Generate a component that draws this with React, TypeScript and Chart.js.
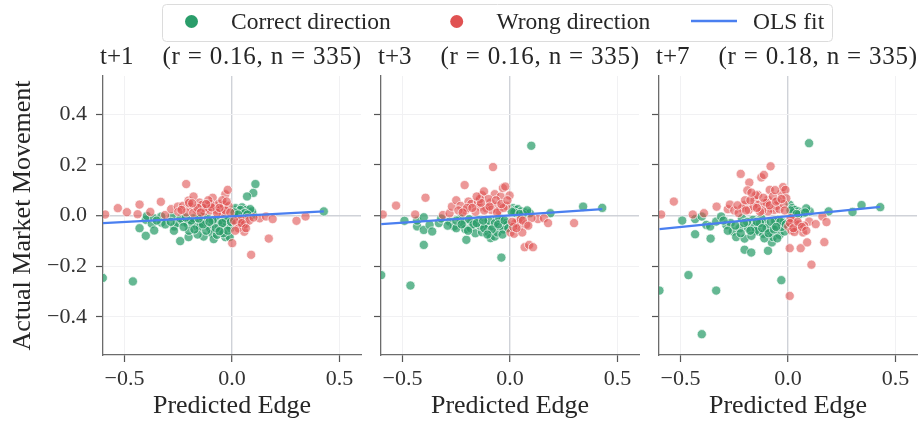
import { useEffect, useRef } from 'react';
import { Chart, registerables } from 'chart.js';
Chart.register(...registerables);

// ---------------- data ----------------
const panelTitles = ['t+1', 't+3', 't+7'];
const panelStats = ['(r = 0.16, n = 335)', '(r = 0.16, n = 335)', '(r = 0.18, n = 335)'];
const xTicks = [-0.5, 0, 0.5];
const xTickLabels = ['−0.5', '0.0', '0.5'];
const yTicks = [-0.4, -0.2, 0, 0.2, 0.4];
const yTickLabels = ['−0.4', '−0.2', '0.0', '0.2', '0.4'];
const xLimits = [-0.6, 0.6];
const yLimits = [-0.55, 0.55];
const legendLabels = ['Correct direction', 'Wrong direction', 'OLS fit'];
const xAxisTitle = 'Predicted Edge';
const yAxisTitle = 'Actual Market Movement';

const t1Correct: number[][] = [
  [-0.601,-0.246],[-0.461,-0.260],[0.109,0.124],[0.099,0.089],[0.070,0.075],[0.427,0.016],
  [-0.430,-0.050],[-0.401,-0.080],[-0.401,-0.017],[-0.396,-0.002],[-0.373,-0.033],[-0.362,-0.059],[-0.362,-0.011],[-0.329,-0.004],[-0.329,-0.028],[-0.280,-0.004],[-0.269,-0.043],[-0.256,-0.030],[-0.241,-0.101],[-0.228,-0.024],[-0.202,-0.085],[-0.207,-0.033],[-0.186,-0.030],[-0.179,-0.011],[-0.163,-0.043],[-0.148,-0.024],[-0.140,-0.004],[-0.132,-0.083],[-0.120,-0.033],[-0.113,-0.011],[-0.101,-0.050],[-0.093,-0.070],[-0.085,-0.093],[-0.082,-0.017],[-0.070,-0.076],[-0.062,-0.017],[-0.062,-0.043],[-0.051,-0.030],[-0.031,-0.085],[-0.023,-0.037],[-0.016,-0.017],[-0.011,-0.085],[-0.008,-0.050],
  [0.008,0.022],[0.016,0.029],[0.031,0.016],[0.047,0.032],[0.067,0.022],[0.078,0.012],[0.098,0.003],[0.093,0.016],[0.023,0.009],[0.039,0.022],
  [-0.19,-0.02],[-0.15,-0.045],[-0.12,-0.06],[-0.09,-0.02],[-0.05,-0.055],[-0.03,-0.012],[-0.24,-0.012],[-0.31,-0.035],[-0.35,-0.02],[-0.27,-0.06],[-0.2,-0.06],[-0.16,-0.075],[-0.04,-0.07],[0.05,0.005],[0.085,0.025],[0.06,0.01],
  [-0.225,-0.045],[-0.175,-0.055],[-0.135,-0.035],[-0.105,-0.025],[-0.075,-0.05],[-0.045,-0.03],[-0.02,-0.06],[-0.005,-0.025],[-0.285,-0.025],[-0.215,-0.008],[0.012,0.012],[0.028,0.004],[0.072,0.004],[-0.058,-0.062],[-0.155,-0.012],
];
const t1Wrong: number[][] = [
  [-0.590,0.004],[-0.531,0.029],[-0.489,0.013],[-0.439,0.005],[-0.430,0.043],[-0.380,0.014],[-0.331,0.054],[-0.311,0.002],[-0.283,0.025],[-0.252,0.035],[-0.228,0.038],[-0.213,0.124],[-0.202,0.059],[-0.194,0.035],[-0.179,0.075],[-0.213,0.012],[-0.163,0.022],[-0.151,0.051],[-0.140,0.042],[-0.129,0.016],[-0.116,0.029],[-0.101,0.020],[-0.090,0.070],[-0.078,0.038],[-0.070,0.020],[-0.062,0.046],[-0.051,0.025],[-0.039,0.042],[-0.031,0.084],[-0.020,0.101],[-0.016,0.038],[-0.042,0.009],
  [-0.25,0.015],[-0.18,0.01],[-0.13,0.03],[-0.1,0.045],[-0.07,0.01],[-0.03,0.02],[-0.2,0.05],[-0.16,0.03],[-0.11,0.06],[-0.045,0.06],
  [0.001,-0.109],[0.039,-0.024],[0.051,-0.043],[0.057,-0.064],[0.070,-0.011],[0.089,-0.155],[0.129,-0.011],[0.158,-0.004],[0.171,-0.091],[0.189,-0.014],[0.300,-0.021],[0.342,-0.004],
  [0.02,-0.03],[0.04,-0.015],[0.06,-0.035],[0.03,-0.05],[0.08,-0.02],[0.1,-0.008],
  [-0.235,0.022],[-0.185,0.048],[-0.145,0.012],[-0.095,0.032],[-0.058,0.03],[-0.025,0.055],[-0.008,0.012],[-0.12,0.045],[0.01,-0.02],[0.045,-0.03],[0.065,-0.05],[0.015,-0.06],
];
const t1Fit: number[][] = [[-0.601,-0.030],[0.427,0.016]];

const t3Correct: number[][] = [
  [-0.599,-0.235],[-0.463,-0.276],[0.099,0.275],[-0.040,-0.166],[-0.401,-0.116],[-0.203,-0.096],[0.340,0.035],[0.429,0.030],[0.188,0.009],[-0.491,-0.021],
  [-0.432,-0.043],[-0.432,-0.020],[-0.401,-0.007],[-0.401,-0.057],[-0.374,-0.037],[-0.362,-0.063],[-0.331,-0.030],[-0.281,-0.024],[-0.261,-0.043],[-0.250,-0.050],[-0.230,-0.011],[-0.219,-0.028],[-0.208,-0.054],[-0.183,-0.050],[-0.180,-0.024],[-0.161,-0.070],[-0.149,-0.017],[-0.130,-0.066],[-0.118,-0.030],[-0.110,-0.043],[-0.099,-0.067],[-0.090,-0.089],[-0.079,-0.043],[-0.071,-0.083],[-0.064,-0.017],[-0.059,-0.067],[-0.048,-0.043],[-0.040,-0.024],[-0.022,-0.030],[-0.012,-0.037],
  [0.014,0.029],[0.025,0.022],[0.037,0.025],[0.050,0.016],[0.068,0.012],[0.092,0.009],[0.030,0.009],
  [-0.19,-0.015],[-0.14,-0.04],[-0.1,-0.02],[-0.03,-0.055],[-0.17,-0.035],[-0.25,-0.02],[-0.07,-0.03],[0.06,0.005],[0.02,0.012],[-0.32,-0.012],[-0.12,-0.05],[-0.05,-0.01],
  [-0.225,-0.035],[-0.195,-0.06],[-0.155,-0.03],[-0.125,-0.02],[-0.085,-0.055],[-0.055,-0.035],[-0.025,-0.02],[-0.008,-0.05],[-0.29,-0.04],[0.008,0.015],[0.045,0.006],[0.08,0.02],[-0.035,-0.075],[-0.105,-0.075],
];
const t3Wrong: number[][] = [
  [-0.592,0.004],[-0.530,0.039],[-0.441,0.004],[-0.393,0.070],[-0.312,0.002],[-0.281,0.009],[-0.270,0.035],[-0.250,0.060],[-0.230,0.038],[-0.211,0.120],[-0.208,0.020],[-0.193,0.055],[-0.180,0.046],[-0.149,0.054],[-0.130,0.080],[-0.121,0.095],[-0.141,0.035],[-0.110,0.029],[-0.090,0.051],[-0.079,0.191],[-0.071,0.084],[-0.059,0.038],[-0.043,0.075],[-0.033,0.108],[-0.022,0.114],[-0.017,0.038],[-0.002,0.079],[-0.053,0.020],[-0.087,0.022],
  [-0.16,0.015],[-0.12,0.02],[-0.2,0.03],[-0.06,0.012],[-0.1,0.065],[-0.03,0.03],[-0.24,0.02],[-0.14,0.065],
  [0.002,-0.067],[0.019,-0.072],[0.037,-0.024],[0.045,-0.043],[0.057,-0.067],[0.068,-0.125],[0.089,-0.116],[0.107,-0.125],[0.130,-0.014],[0.158,-0.011],[0.177,-0.030],[0.298,-0.030],
  [0.025,-0.03],[0.05,-0.015],[0.015,-0.045],[0.075,-0.035],[0.1,-0.01],
  [-0.22,0.012],[-0.175,0.03],[-0.135,0.05],[-0.095,0.035],[-0.065,0.06],[-0.04,0.045],[-0.012,0.06],[-0.155,0.075],[0.01,-0.025],[0.03,-0.05],[0.06,-0.02],[0.085,-0.04],
];
const t3Fit: number[][] = [[-0.599,-0.034],[0.429,0.025]];

const t7Correct: number[][] = [
  [-0.598,-0.296],[-0.463,-0.235],[-0.334,-0.296],[-0.401,-0.468],[-0.031,-0.255],[0.098,0.285],[0.342,0.041],[0.429,0.033],[0.300,0.014],[0.189,0.016],[-0.492,-0.020],
  [-0.432,-0.014],[-0.432,-0.074],[-0.401,-0.004],[-0.380,-0.037],[-0.362,-0.043],[-0.360,-0.091],[-0.334,-0.024],[-0.311,-0.004],[-0.287,-0.037],[-0.267,-0.030],[-0.256,-0.063],[-0.241,-0.085],[-0.225,-0.050],[-0.214,-0.011],[-0.202,-0.091],[-0.202,-0.135],[-0.186,-0.050],[-0.171,-0.146],[-0.163,-0.017],[-0.155,-0.043],[-0.140,-0.063],[-0.124,-0.011],[-0.116,-0.072],[-0.109,-0.030],[-0.093,-0.139],[-0.081,-0.063],[-0.075,-0.106],[-0.070,-0.085],[-0.062,-0.037],[-0.047,-0.017],[-0.039,-0.076],[-0.023,-0.028],[-0.016,-0.063],
  [0.008,0.042],[0.019,0.029],[0.031,0.022],[0.047,0.016],[0.062,0.012],[0.070,0.009],[0.101,0.016],[0.023,0.009],
  [-0.19,-0.025],[-0.15,-0.06],[-0.13,-0.03],[-0.1,-0.05],[-0.06,-0.02],[-0.03,-0.045],[-0.22,-0.07],[-0.28,-0.06],[-0.05,-0.09],[-0.11,-0.09],[0.05,0.004],[0.085,0.028],[-0.17,-0.08],[-0.08,-0.025],
  [-0.245,-0.04],[-0.205,-0.03],[-0.175,-0.06],[-0.145,-0.025],[-0.12,-0.05],[-0.09,-0.07],[-0.065,-0.055],[-0.035,-0.025],[-0.01,-0.035],[-0.3,-0.02],[0.012,0.02],[0.04,0.006],[0.08,0.012],[-0.055,-0.045],
];
const t7Wrong: number[][] = [
  [-0.590,0.004],[-0.531,0.055],[-0.443,0.004],[-0.391,0.009],[-0.332,0.035],[-0.280,0.025],[-0.270,0.043],[-0.220,0.164],[-0.180,0.130],[-0.189,0.099],[-0.202,0.042],[-0.214,0.029],[-0.182,0.022],[-0.155,0.059],[-0.140,0.081],[-0.137,0.042],[-0.124,0.150],[-0.112,0.160],[-0.081,0.194],[-0.085,0.101],[-0.093,0.062],[-0.109,0.049],[-0.078,0.029],[-0.065,0.022],[-0.054,0.038],[-0.031,0.088],[-0.023,0.112],[-0.012,0.101],[-0.008,0.068],[-0.047,0.059],[-0.093,0.016],
  [-0.25,0.02],[-0.16,0.035],[-0.12,0.02],[-0.1,0.05],[-0.07,0.075],[-0.04,0.025],[-0.02,0.045],[-0.2,0.06],[-0.15,0.08],[-0.06,0.1],[-0.13,0.015],[-0.23,0.01],
  [0.001,-0.043],[0.008,-0.129],[0.016,-0.059],[0.031,-0.030],[0.043,-0.050],[0.059,-0.129],[0.070,-0.067],[0.089,-0.106],[0.098,-0.024],[0.109,-0.194],[0.129,-0.034],[0.160,-0.004],[0.169,-0.105],[0.179,-0.026],[0.008,-0.317],
  [0.02,-0.02],[0.05,-0.035],[0.03,-0.065],[0.075,-0.04],[0.012,-0.01],
  [-0.235,0.04],[-0.195,0.02],[-0.175,0.06],[-0.145,0.03],[-0.115,0.07],[-0.085,0.04],[-0.055,0.055],[-0.03,0.065],[-0.015,0.02],[-0.17,0.09],[0.01,-0.03],[0.025,-0.05],[0.045,-0.025],[0.065,-0.045],[0.085,-0.06],
];
const t7Fit: number[][] = [[-0.598,-0.054],[0.429,0.034]];

const correctSets = [t1Correct, t3Correct, t7Correct];
const wrongSets = [t1Wrong, t3Wrong, t7Wrong];
const fitSets = [t1Fit, t3Fit, t7Fit];

// ---------------- layout / style ----------------
const W = 923;
const H = 428;
const FONT = '"Liberation Serif", "Times New Roman", serif';
const TEXT = '#262626';
const AREA_LEFT = [103, 381, 659];
const AREA_WIDTH = 258;
const AREA_TOP = 76;
const AREA_BOTTOM = 355;
const YAXIS_W = 60;
const XAXIS_H = 60;
const GREEN = '#2a9d6a';
const RED = '#e05252';
const BLUE = '#4a7ff0';

const toXY = (a: number[][]) => a.map(([x, y]) => ({ x, y }));

function makeConfig(i: number): any {
  const textPlugin = {
    id: 'panelText' + i,
    afterDraw(chart: any) {
      const ctx = chart.ctx as CanvasRenderingContext2D;
      const a = chart.chartArea;
      ctx.save();
      ctx.fillStyle = TEXT;
      ctx.textBaseline = 'alphabetic';
      // panel title
      ctx.font = `25px ${FONT}`;
      ctx.textAlign = 'left';
      ctx.fillText(panelTitles[i], a.left - 3, 64);
      ctx.textAlign = 'right';
      (ctx as any).letterSpacing = '0.8px';
      ctx.fillText(panelStats[i], a.right + 1, 64);
      (ctx as any).letterSpacing = '0px';
      // x axis title
      ctx.font = `26px ${FONT}`;
      ctx.textAlign = 'center';
      ctx.fillText(xAxisTitle, (a.left + a.right) / 2, 413);
      if (i === 0) {
        // y axis title
        ctx.save();
        ctx.translate(30, (a.top + a.bottom) / 2);
        ctx.rotate(-Math.PI / 2);
        ctx.textAlign = 'center';
        ctx.fillText(yAxisTitle, 0, 0);
        ctx.restore();
        // legend
        ctx.beginPath();
        (ctx as any).roundRect(162.5, 4.5, 670, 37, 4);
        ctx.fillStyle = 'rgba(255,255,255,0.9)';
        ctx.fill();
        ctx.strokeStyle = '#dcdcdc';
        ctx.lineWidth = 1;
        ctx.stroke();
        ctx.beginPath();
        ctx.arc(191.5, 21.5, 6.5, 0, Math.PI * 2);
        ctx.fillStyle = GREEN;
        ctx.fill();
        ctx.beginPath();
        ctx.arc(456.7, 21.5, 6.5, 0, Math.PI * 2);
        ctx.fillStyle = RED;
        ctx.fill();
        ctx.beginPath();
        ctx.moveTo(691, 21);
        ctx.lineTo(737, 21);
        ctx.strokeStyle = BLUE;
        ctx.lineWidth = 2.5;
        ctx.stroke();
        ctx.fillStyle = TEXT;
        ctx.font = `23.5px ${FONT}`;
        ctx.textAlign = 'left';
        ctx.fillText(legendLabels[0], 231, 29);
        ctx.fillText(legendLabels[1], 496.5, 29);
        ctx.fillText(legendLabels[2], 753, 29);
      }
      ctx.restore();
    },
  };

  const gridColor = (c: any) => (c.tick && c.tick.value === 0 ? '#cfd2d8' : '#f1f1f3');
  const gridWidth = (c: any) => (c.tick && c.tick.value === 0 ? 1.4 : 1);

  return {
    type: 'scatter',
    data: {
      datasets: [
        {
          label: legendLabels[2],
          data: toXY(fitSets[i]),
          showLine: true,
          borderColor: BLUE,
          borderWidth: 2.2,
          pointRadius: 0,
          clip: 0,
        },
        {
          label: legendLabels[1],
          data: toXY(wrongSets[i]),
          backgroundColor: 'rgba(224,82,82,0.6)',
          borderColor: 'rgba(255,255,255,0.85)',
          borderWidth: 0.8,
          pointRadius: 4.6,
          clip: 0,
        },
        {
          label: legendLabels[0],
          data: toXY(correctSets[i]),
          backgroundColor: 'rgba(42,157,106,0.72)',
          borderColor: 'rgba(255,255,255,0.85)',
          borderWidth: 0.8,
          pointRadius: 4.6,
          clip: 0,
        },
      ],
    },
    options: {
      responsive: false,
      animation: false,
      devicePixelRatio: 1,
      events: [],
      layout: {
        padding: {
          left: AREA_LEFT[i] - YAXIS_W,
          right: W - AREA_LEFT[i] - AREA_WIDTH,
          top: AREA_TOP,
          bottom: H - AREA_BOTTOM - XAXIS_H,
        },
      },
      plugins: { legend: { display: false }, tooltip: { enabled: false }, title: { display: false } },
      scales: {
        x: {
          type: 'linear',
          min: xLimits[0],
          max: xLimits[1],
          afterBuildTicks: (s: any) => {
            s.ticks = xTicks.map((v) => ({ value: v }));
          },
          afterFit: (s: any) => {
            s.height = XAXIS_H;
          },
          grid: { color: gridColor, lineWidth: gridWidth, tickColor: '#555', tickLength: 7, tickWidth: 1.2 },
          border: { display: true, color: '#6b6b6b', width: 1.3 },
          ticks: {
            color: '#333',
            font: { family: FONT, size: 22 },
            padding: 4,
            maxRotation: 0,
            autoSkip: false,
            callback: (_v: any, idx: number) => xTickLabels[idx],
          },
        },
        y: {
          type: 'linear',
          min: yLimits[0],
          max: yLimits[1],
          afterBuildTicks: (s: any) => {
            s.ticks = yTicks.map((v) => ({ value: v }));
          },
          afterFit: (s: any) => {
            s.width = YAXIS_W;
          },
          grid: { color: gridColor, lineWidth: gridWidth, tickColor: '#555', tickLength: 7, tickWidth: 1.2 },
          border: { display: true, color: '#6b6b6b', width: 1.3 },
          ticks: {
            display: i === 0,
            color: '#333',
            font: { family: FONT, size: 22 },
            padding: 9,
            autoSkip: false,
            callback: (_v: any, idx: number) => yTickLabels[idx],
          },
        },
      },
    },
    plugins: [textPlugin],
  };
}

function Panel({ idx }: { idx: number }) {
  const ref = useRef<HTMLCanvasElement>(null);
  useEffect(() => {
    const chart = new Chart(ref.current as HTMLCanvasElement, makeConfig(idx));
    return () => chart.destroy();
  }, [idx]);
  return (
    <canvas
      ref={ref}
      width={W}
      height={H}
      style={{ position: 'absolute', left: 0, top: 0, width: W, height: H }}
    />
  );
}

export default function App() {
  return (
    <div style={{ position: 'fixed', left: 0, top: 0, width: W, height: H, background: '#fff' }}>
      <Panel idx={0} />
      <Panel idx={1} />
      <Panel idx={2} />
    </div>
  );
}
